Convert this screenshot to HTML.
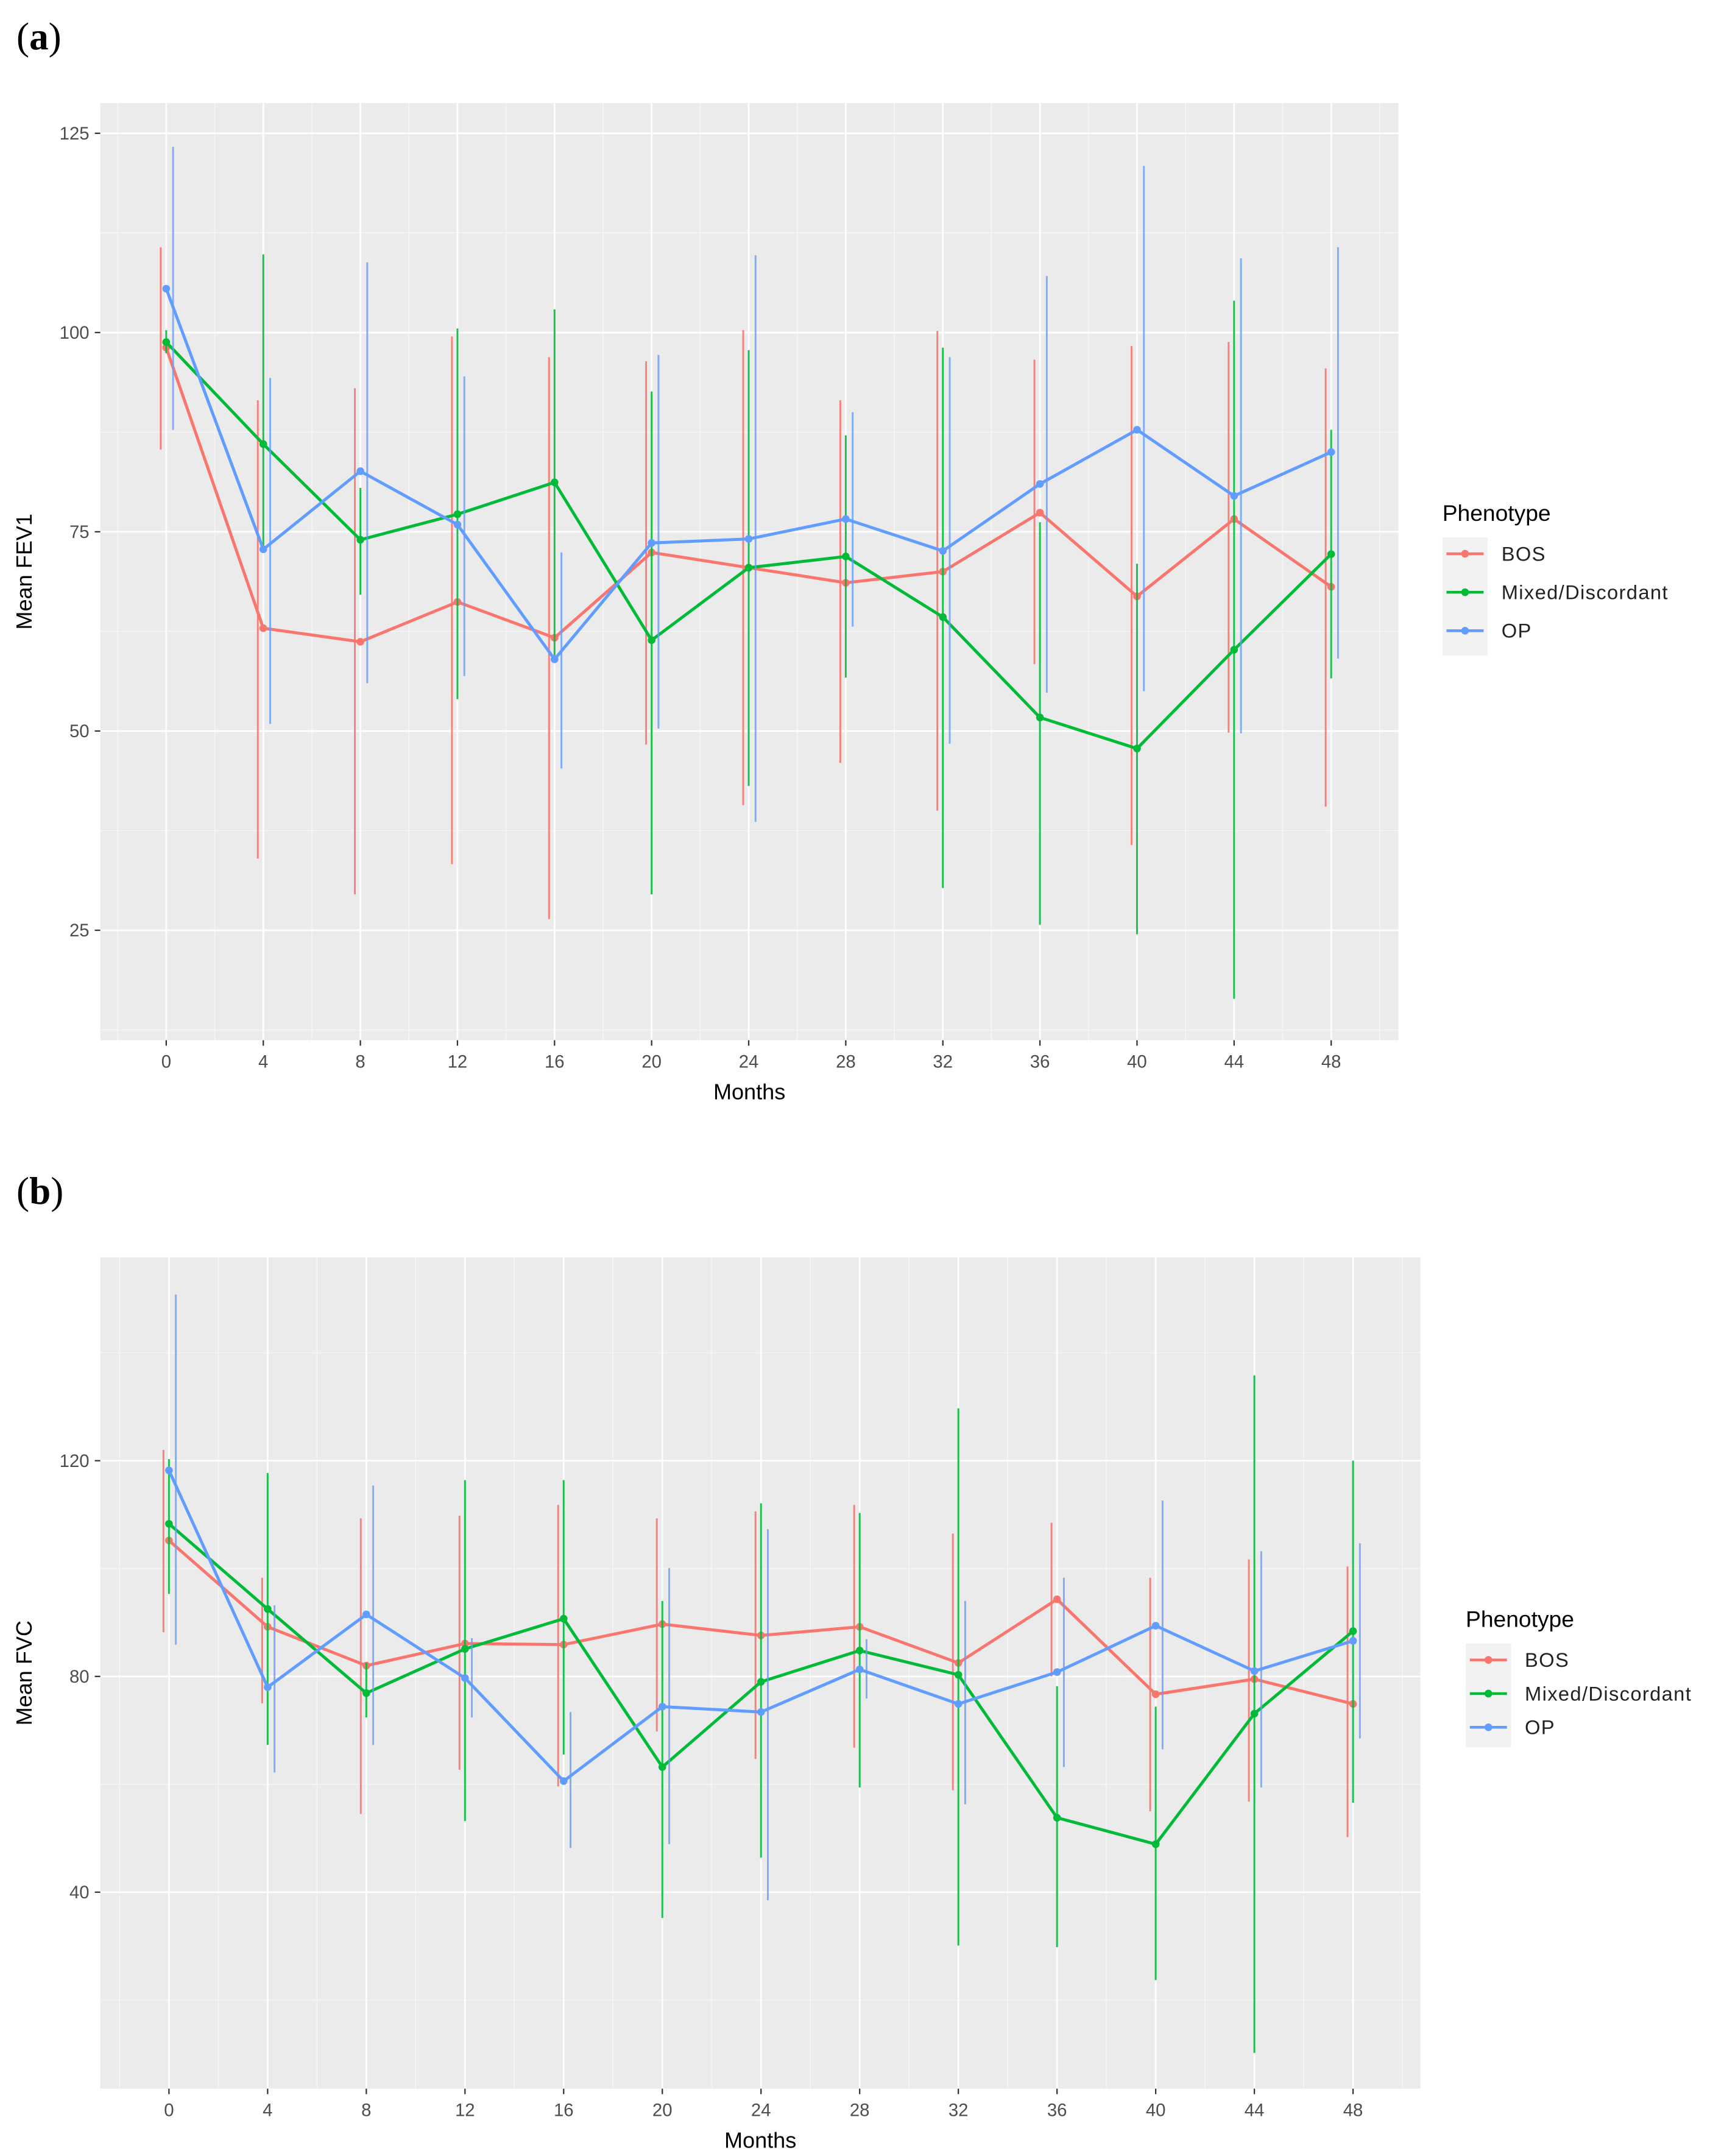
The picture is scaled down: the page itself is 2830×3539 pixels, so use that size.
<!DOCTYPE html>
<html><head><meta charset="utf-8">
<style>
html,body{margin:0;padding:0;background:#fff;}
svg{display:block;}
text{font-family:"Liberation Sans",sans-serif;}
</style></head>
<body>
<svg id="fig" width="2830" height="3539" viewBox="0 0 1255 1569" preserveAspectRatio="none" xmlns="http://www.w3.org/2000/svg">
<text x="12" y="36" style="font-family:'Liberation Serif',serif" font-size="28" fill="#000">(<tspan font-weight="bold">a</tspan>)</text>
<text x="12" y="876" style="font-family:'Liberation Serif',serif" font-size="28" fill="#000">(<tspan font-weight="bold">b</tspan>)</text>
<g id="pa"></g>
<g id="pb"></g>
</svg>
<script>
const months = [0,4,8,12,16,20,24,28,32,36,40,44,48];
const seriesNames = ["BOS","Mixed/Discordant","OP"];
const fev1Bos = [98.1,62.9,61.2,66.2,61.7,72.4,70.5,68.6,70.0,77.4,66.9,76.6,68.1];
const fev1BosLo = [85.3,34.0,29.5,33.3,26.4,48.3,40.7,46.0,40.0,58.4,35.7,49.8,40.5];
const fev1BosHi = [110.7,91.5,93.0,99.5,96.9,96.4,100.3,91.5,100.2,96.6,98.3,98.8,95.5];
const fev1Mix = [98.8,86.0,74.0,77.2,81.2,61.4,70.5,71.9,64.3,51.7,47.8,60.2,72.2];
const fev1MixLo = [97.4,72.8,67.1,54.0,59.3,29.5,43.1,56.7,30.3,25.7,24.5,16.4,56.6];
const fev1MixHi = [100.3,109.8,80.5,100.5,102.9,92.6,97.8,87.1,98.1,76.2,71.0,104.0,87.8];
const fev1Op = [105.5,72.8,82.6,75.9,59.0,73.6,74.1,76.6,72.6,81.0,87.8,79.5,85.0];
const fev1OpLo = [87.8,50.9,56.0,56.9,45.3,50.3,38.6,63.1,48.4,54.8,55.0,49.7,59.1];
const fev1OpHi = [123.3,94.3,108.8,94.5,72.4,97.2,109.7,90.0,96.9,107.1,120.9,109.3,110.7];
const fvcBos = [105.2,89.2,82.0,86.1,85.9,89.7,87.6,89.2,82.5,94.3,76.7,79.5,74.9];
const fvcBosLo = [88.2,75.0,54.5,62.7,59.6,69.8,64.7,66.8,58.9,80.0,55.0,56.8,50.2];
const fvcBosHi = [122.0,98.3,109.3,109.8,111.8,109.3,110.6,111.8,106.5,108.5,98.3,101.7,100.4];
const fvcMix = [108.3,92.5,76.9,85.1,90.7,63.2,79.0,84.8,80.3,53.8,48.9,73.1,88.4];
const fvcMixLo = [95.3,67.3,72.4,53.2,65.5,35.2,46.4,59.4,30.1,29.8,23.7,10.2,56.6];
const fvcMixHi = [120.3,117.7,82.5,116.4,116.4,94.0,112.1,110.3,129.7,78.2,74.4,135.8,120.0];
const fvcOp = [118.2,78.0,91.5,79.7,60.6,74.4,73.4,81.3,74.9,80.8,89.4,81.0,86.6];
const fvcOpLo = [85.9,62.2,67.3,72.4,48.2,48.9,38.5,75.9,56.3,63.2,66.5,59.4,68.5];
const fvcOpHi = [150.8,93.2,115.4,87.1,73.4,100.1,107.3,86.9,94.0,98.3,112.6,103.2,104.7];
const fev1Ticks = [25,50,75,100,125];
const fvcTicks = [40,80,120];

const NS="http://www.w3.org/2000/svg";
const COLORS=["#F8766D","#00BA38","#619CFF"];
function mk(parent,tag,attrs){const e=document.createElementNS(NS,tag);for(const k in attrs)e.setAttribute(k,attrs[k]);parent.appendChild(e);return e;}

function drawPanel(g,cfg){
  const xS=m=>cfg.x0+(m/4)*cfg.xStep;
  const yS=v=>cfg.yRef+(cfg.vRef-v)*cfg.yPer;
  const bg=mk(g,"rect",{x:cfg.left,y:cfg.top,width:cfg.right-cfg.left,height:cfg.bottom-cfg.top,fill:"#EBEBEB"});
  
  
  const step=cfg.ticks[1]-cfg.ticks[0];
  for(let v=cfg.ticks[0]-step*1.5;v<=cfg.ticks[cfg.ticks.length-1]+step*1.5;v+=step){
    const y=yS(v); if(y>cfg.top&&y<cfg.bottom) mk(g,"line",{x1:cfg.left,x2:cfg.right,y1:y,y2:y,stroke:"#F7F7F7","stroke-width":0.6});
  }
  for(let m=-2;m<=50;m+=4){const x=xS(m); if(x>cfg.left&&x<cfg.right) mk(g,"line",{x1:x,x2:x,y1:cfg.top,y2:cfg.bottom,stroke:"#F7F7F7","stroke-width":0.6});}
  cfg.ticks.forEach(v=>{const y=yS(v);
    mk(g,"line",{x1:cfg.left,x2:cfg.right,y1:y,y2:y,stroke:"#fff","stroke-width":1.2});
    mk(g,"line",{x1:cfg.left-4,x2:cfg.left,y1:y,y2:y,stroke:"#333","stroke-width":1});
    const t=mk(g,"text",{x:cfg.left-8,y:y+4.5,"text-anchor":"end","font-size":13,fill:"#4D4D4D"});t.textContent=v;
    
    
  });
  months.forEach(m=>{const x=xS(m);
    mk(g,"line",{x1:x,x2:x,y1:cfg.top,y2:cfg.bottom,stroke:"#fff","stroke-width":1.2});
    mk(g,"line",{x1:x,x2:x,y1:cfg.bottom,y2:cfg.bottom+4,stroke:"#333","stroke-width":1});
    const t=mk(g,"text",{x:x,y:cfg.bottom+20,"text-anchor":"middle","font-size":13,fill:"#4D4D4D"});t.textContent=m;
    
    
  });
  const xt=mk(g,"text",{x:(cfg.left+cfg.right)/2,y:cfg.bottom+43,"text-anchor":"middle","font-size":16,fill:"#000"});xt.textContent="Months";
  
  
  const yc=(cfg.top+cfg.bottom)/2;
  const yt=mk(g,"text",{x:0,y:0,transform:`translate(${cfg.left-50},${yc}) rotate(-90)`,"text-anchor":"middle","font-size":16,fill:"#000"});yt.textContent=cfg.ytitle;
  
  
  const offs=[-4,0,5];
  cfg.series.forEach((s,i)=>{
    const sg=mk(g,"g",{});
    
    
    s.lo.forEach((lo,j)=>{const x=xS(months[j])+offs[i];
      const eb=mk(sg,"line",{x1:x,x2:x,y1:yS(lo),y2:yS(s.hi[j]),stroke:COLORS[i],"stroke-width":1.3,"stroke-opacity":i==2?0.8:0.9});
      
      
    });
    const pts=s.mean.map((v,j)=>xS(months[j])+","+yS(v)).join(" ");
    const pl=mk(sg,"polyline",{points:pts,fill:"none",stroke:COLORS[i],"stroke-width":2.2});
    
    
    s.mean.forEach((v,j)=>{const c=mk(sg,"circle",{cx:xS(months[j]),cy:yS(v),r:2.8,fill:COLORS[i]});
      
      
    });
  });
  const lg=mk(g,"g",{});
  
  
  const tt=mk(lg,"text",{x:cfg.lx,y:cfg.ly,"font-size":16.5,fill:"#000"});tt.textContent="Phenotype";
  
  
  mk(lg,"rect",{x:cfg.lx,y:cfg.ly+12,width:33,height:cfg.lgap*3+2,fill:"#F2F2F2"});
  seriesNames.forEach((n,i)=>{const y=cfg.ly+24+i*cfg.lgap;
    const e=mk(lg,"g",{});
    
    
    mk(e,"line",{x1:cfg.lx+3,x2:cfg.lx+30,y1:y,y2:y,stroke:COLORS[i],"stroke-width":2});
    mk(e,"circle",{cx:cfg.lx+16.5,cy:y,r:2.8,fill:COLORS[i]});
    const t=mk(e,"text",{x:cfg.lx+43,y:y+5,"font-size":14.5,"letter-spacing":0.6,fill:"#222"});t.textContent=n;
  });
}
drawPanel(document.getElementById("pa"),{left:73,right:1018,top:75,bottom:757,x0:121,xStep:70.67,yRef:242,vRef:100,yPer:5.8,ticks:fev1Ticks,ytitle:"Mean FEV1",lx:1050,ly:379,lgap:28,
  series:[{mean:fev1Bos,lo:fev1BosLo,hi:fev1BosHi},{mean:fev1Mix,lo:fev1MixLo,hi:fev1MixHi},{mean:fev1Op,lo:fev1OpLo,hi:fev1OpHi}]});
drawPanel(document.getElementById("pb"),{left:73,right:1034,top:915,bottom:1520,x0:123,xStep:71.83,yRef:1220,vRef:80,yPer:3.925,ticks:fvcTicks,ytitle:"Mean FVC",lx:1067,ly:1184,lgap:24.5,
  series:[{mean:fvcBos,lo:fvcBosLo,hi:fvcBosHi},{mean:fvcMix,lo:fvcMixLo,hi:fvcMixHi},{mean:fvcOp,lo:fvcOpLo,hi:fvcOpHi}]});
</script>
</body></html>
